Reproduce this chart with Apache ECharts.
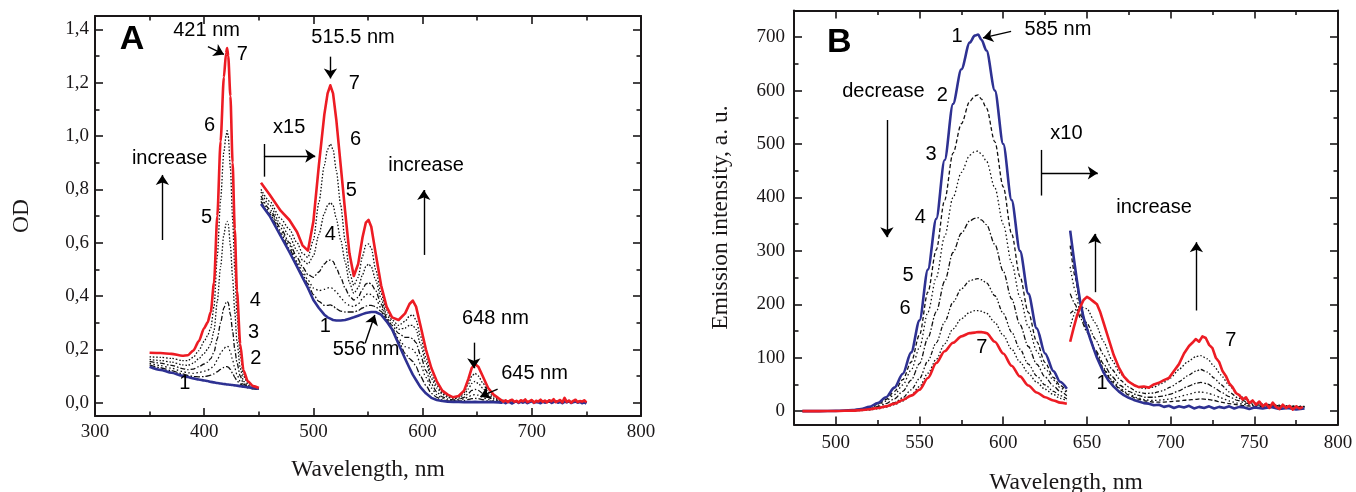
<!DOCTYPE html>
<html><head><meta charset="utf-8">
<script src="https://cdn.jsdelivr.net/npm/echarts@6.0.0/dist/echarts.min.js"></script>
<style>html,body{margin:0;padding:0;background:#fff}#c{width:1356px;height:492px}</style>
</head><body><div id="c"></div>
<script>
// ---------------- Panel A : absorption (OD) ----------------
const A_xTicks = [300, 400, 500, 600, 700, 800];
const A_xMinor = [350, 450, 550, 650, 750];
const A_yTicks = [0, 0.2, 0.4, 0.6, 0.8, 1.0, 1.2, 1.4];
const A_yMinor = [0.1, 0.3, 0.5, 0.7, 0.9, 1.1, 1.3];

// Soret region (350-450 nm)
const A1x = [350, 360, 370, 380, 385, 390, 395, 400, 403, 406, 409, 412, 415, 418, 420, 421, 422, 424, 426, 428, 430, 433, 436, 440, 445, 450];
const A1_c1 = [0.135,0.123,0.112,0.101,0.096,0.091,0.087,0.083,0.081,0.078,0.076,0.074,0.072,0.07,0.069,0.068,0.068,0.067,0.066,0.065,0.064,0.062,0.06,0.058,0.055,0.052];
const A1_c2 = [0.142,0.131,0.120,0.108,0.102,0.098,0.097,0.098,0.10,0.103,0.108,0.116,0.125,0.132,0.135,0.135,0.133,0.125,0.11,0.095,0.082,0.07,0.062,0.056,0.052,0.05];
const A1_c3 = [0.148,0.139,0.129,0.117,0.112,0.110,0.113,0.118,0.122,0.128,0.14,0.16,0.185,0.203,0.21,0.212,0.21,0.19,0.16,0.13,0.105,0.08,0.065,0.057,0.053,0.05];
const A1_c4 = [0.155,0.148,0.140,0.128,0.124,0.126,0.135,0.145,0.152,0.165,0.19,0.24,0.30,0.355,0.375,0.38,0.375,0.33,0.27,0.20,0.15,0.10,0.07,0.06,0.054,0.051];
const A1_c5 = [0.162,0.158,0.152,0.142,0.140,0.148,0.165,0.185,0.20,0.22,0.27,0.38,0.51,0.63,0.67,0.68,0.67,0.59,0.47,0.34,0.23,0.13,0.08,0.065,0.056,0.052];
const A1_c6 = [0.172,0.170,0.166,0.158,0.158,0.170,0.195,0.23,0.25,0.28,0.36,0.55,0.76,0.94,1.00,1.02,1.00,0.88,0.69,0.50,0.33,0.18,0.10,0.072,0.058,0.053];
const A1_c7 = [0.187,0.186,0.183,0.176,0.178,0.195,0.23,0.28,0.30,0.34,0.45,0.70,0.98,1.22,1.31,1.33,1.30,1.15,0.90,0.65,0.42,0.22,0.12,0.08,0.062,0.055];

// Q-band region (x15), 452-670 nm
const A2x = [452,460,470,478,485,490,495,500,505,510,513,515.5,518,521,525,529,533,537,541,545,548,550.5,553,557,562,567,572,578,584,588,591,594,598,603,608,613,618,623,628,633,638,642,645,648,651,655,660,665,670];
const A2_c1 = [0.745,0.70,0.625,0.565,0.51,0.47,0.43,0.385,0.355,0.33,0.32,0.315,0.31,0.308,0.308,0.31,0.315,0.32,0.326,0.332,0.336,0.338,0.34,0.34,0.33,0.305,0.275,0.22,0.165,0.13,0.105,0.085,0.058,0.035,0.018,0.01,0.006,0.004,0.003,0.003,0.002,0.003,0.002,0.003,0.002,0.002,0.002,0.002,0.001];
const A2_c2 = [0.755,0.708,0.635,0.578,0.52,0.482,0.445,0.405,0.38,0.365,0.365,0.367,0.363,0.352,0.343,0.34,0.34,0.34,0.345,0.355,0.362,0.365,0.365,0.36,0.342,0.31,0.278,0.23,0.185,0.165,0.155,0.135,0.1,0.065,0.035,0.02,0.011,0.007,0.005,0.006,0.008,0.012,0.015,0.016,0.015,0.011,0.007,0.004,0.003];
const A2_c3 = [0.765,0.715,0.645,0.59,0.53,0.495,0.46,0.43,0.42,0.425,0.43,0.432,0.428,0.415,0.395,0.375,0.365,0.36,0.37,0.39,0.405,0.41,0.405,0.39,0.355,0.315,0.28,0.24,0.21,0.205,0.2,0.185,0.145,0.095,0.055,0.03,0.016,0.01,0.008,0.009,0.014,0.022,0.028,0.03,0.028,0.02,0.012,0.006,0.004];
const A2_c4 = [0.775,0.725,0.655,0.6,0.545,0.51,0.48,0.47,0.49,0.52,0.532,0.535,0.53,0.505,0.47,0.43,0.40,0.385,0.395,0.425,0.445,0.45,0.445,0.42,0.37,0.32,0.29,0.26,0.245,0.245,0.24,0.225,0.18,0.12,0.07,0.04,0.022,0.014,0.01,0.012,0.02,0.035,0.046,0.05,0.046,0.035,0.02,0.01,0.005];
const A2_c5 = [0.79,0.74,0.67,0.625,0.57,0.535,0.52,0.55,0.63,0.71,0.74,0.75,0.74,0.69,0.61,0.53,0.45,0.41,0.43,0.48,0.51,0.52,0.51,0.46,0.39,0.33,0.30,0.275,0.28,0.29,0.29,0.275,0.22,0.15,0.09,0.055,0.032,0.02,0.014,0.017,0.03,0.052,0.072,0.08,0.072,0.055,0.03,0.016,0.008];
const A2_c6 = [0.80,0.755,0.69,0.65,0.60,0.56,0.545,0.61,0.75,0.89,0.95,0.97,0.95,0.87,0.74,0.61,0.49,0.44,0.47,0.55,0.59,0.595,0.58,0.50,0.41,0.345,0.31,0.29,0.305,0.325,0.33,0.31,0.25,0.17,0.105,0.065,0.038,0.025,0.018,0.022,0.038,0.07,0.10,0.11,0.10,0.075,0.04,0.022,0.012];
const A2_c7 = [0.825,0.78,0.72,0.685,0.64,0.59,0.57,0.68,0.89,1.08,1.16,1.19,1.16,1.06,0.89,0.72,0.56,0.475,0.52,0.62,0.675,0.685,0.66,0.56,0.44,0.36,0.32,0.31,0.335,0.37,0.383,0.36,0.29,0.2,0.13,0.08,0.045,0.03,0.02,0.025,0.045,0.09,0.13,0.145,0.135,0.1,0.055,0.03,0.015];

// noisy tails 672-750 nm
const A2tx = [672,674,676,678,680,682,684,686,688,690,692,694,696,698,700,702,704,706,708,710,712,714,716,718,720,722,724,726,728,730,732,734,736,738,740,742,744,746,748,750];
const A2t_c1 = [0.000,0.003,-0.002,0.004,0.001,-0.003,0.002,0.005,-0.001,0.003,0.000,0.004,-0.002,0.002,0.006,-0.001,0.003,0.001,-0.002,0.004,0.000,0.003,0.007,-0.001,0.002,0.005,0.000,0.003,-0.002,0.004,0.001,0.006,-0.001,0.002,0.004,0.000,0.003,-0.002,0.001,-0.003];
const A2t_c7 = [0.010,0.004,0.009,0.002,0.008,0.011,0.003,0.007,0.001,0.009,0.005,0.012,0.002,0.006,0.010,0.000,0.007,0.004,0.011,0.003,0.008,0.001,0.009,0.005,0.013,0.002,0.006,0.010,0.001,0.018,0.003,0.008,0.000,0.007,0.011,0.002,0.006,0.004,0.009,0.001];
const A2tcx = [675,680,690,700,710,720,730,740,750];
const A2t_c2 = [0.002,0.002,0.001,0.002,0.001,0.001,0.001,0.001,0.000];
const A2t_c3 = [0.003,0.003,0.002,0.003,0.002,0.002,0.002,0.002,0.001];
const A2t_c4 = [0.004,0.004,0.003,0.004,0.003,0.003,0.002,0.003,0.002];
const A2t_c5 = [0.006,0.005,0.005,0.006,0.004,0.005,0.004,0.005,0.003];
const A2t_c6 = [0.008,0.007,0.006,0.007,0.005,0.006,0.004,0.006,0.003];

// annotations panel A (data coordinates)
const annA_text = ['421 nm','7','6','5','4','3','2','1','increase','x15','515.5 nm','7','6','5','4','increase','1','556 nm','648 nm','645 nm'];
const annA_x = [402.2,434.8,405,402.2,446.8,445.2,447.2,382.3,368.4,477.8,536.3,537.5,538.7,534.7,515.6,603.1,510.8,548.2,666.7,702.5];
const annA_y = [1.395,1.304,1.041,0.695,0.385,0.264,0.166,0.0725,0.914,1.0325,1.37,1.1975,0.9875,0.795,0.629,0.889,0.285,0.20,0.314,0.11];
const arrA = [[403.4,1.335,418.1,1.306],[361.7,0.61,361.7,0.854],[454.7,0.925,501.7,0.925],[515.6,1.2975,515.6,1.216],[601.1,0.554,601.1,0.7975],[547.4,0.2225,556.2,0.329],[646.9,0.225,646.9,0.129],[668.7,0.051,652.8,0.0225]];
const barA = [[454.7,0.97,454.7,0.8475]];
const letterA = [333.8, 1.36];

// ---------------- Panel B : emission ----------------
const B_xTicks = [500, 550, 600, 650, 700, 750, 800];
const B_xMinor = [525, 575, 625, 675, 725, 775];
const B_yTicks = [0, 100, 200, 300, 400, 500, 600, 700];
const B_yMinor = [50, 150, 250, 350, 450, 550, 650];

const B1x = [480,490,500,510,515,520,525,530,535,540,545,550,555,560,565,570,575,580,583,585,587,590,595,600,605,610,615,620,625,630,634,638];
const B1_c1 = [0,0,0.5,2,4,8,15,26,44,70,110,170,265,360,470,575,640,690,703,705,695,675,600,500,395,300,220,155,108,75,55,42];
const B1_c2 = [0,0,0.4,1.7,3.4,7,13,22,37,59,92,143,223,302,395,483,538,580,590,592,584,567,504,420,332,252,185,130,91,63,48,37];
const B1_c3 = [0,0,0.3,1.5,3,6,11,19,31,49,77,119,185,250,327,400,447,479,486,487,481,468,418,350,278,213,158,113,80,58,44,34];
const B1_c4 = [0,0,0.3,1.2,2.3,4.5,8.5,14,23,37,58,89,137,186,243,297,333,356,361,362,358,349,312,262,210,162,121,88,64,47,37,29];
const B1_c5 = [0,0,0.2,0.8,1.6,3,6,10,16,25,40,61,94,128,167,204,229,244,247,248,246,240,216,183,148,116,88,66,49,37,29,23];
const B1_c6 = [0,0,0.2,0.6,1.2,2.3,4.5,7.5,12,19,30,46,71,97,126,154,173,185,188,188,187,183,166,142,116,92,71,54,41,31,24,19];
const B1_c7 = [0,0,0.3,1,2,3.5,6,9,14,21,29,40,62,90,112,128,140,146,147,148,148,146,130,108,85,65,48,35,26,20,16,14];

// x10 region
const B2x = [640,643,646,650,655,660,665,670,675,680,685,690,695,700,705,710,715,718,722,726,730,735,740,745,750,760,770,780];
const B2_c2 = [310,250,200,155,112,78,55,40,30,23,19,17,17,18,19,21,22,23,22,20,17,14,12,10,9,8,8,7];
const B2_c3 = [270,225,185,150,110,80,58,42,32,25,21,20,21,23,27,31,35,36,34,30,25,19,15,12,10,9,8,8];
const B2_c4 = [220,200,175,148,115,88,65,48,37,30,26,26,28,32,38,46,52,54,51,44,36,27,20,15,12,10,9,8];
const B2_c5 = [183,190,180,165,135,105,78,58,45,36,33,34,38,45,55,66,75,78,73,62,50,36,25,18,14,11,9,8];
const B2_c6 = [158,185,195,192,165,130,95,70,55,45,42,45,52,62,78,92,102,104,98,84,68,48,32,22,16,12,10,9];
const B2bx = [640,642,644,646,648,650,652,654,656,658,660,663,666,669,672,675,678,681,684,687,690,693,696,699,702,705,708,711,714,717,720,723,726,729,732,735,738,741,744,747,750,755,760,765,770,775,780];
const B2_c1 = [338,290,245,205,175,155,135,117,100,86,72,57,46,37,30,25,21,18,15,14,11,12,8,10,6,9,7,10,5,8,6,9,5,8,6,9,5,8,7,4,7,5,8,4,6,3,5];
const B2rx = [640,642,644,646,648,650,652,654,656,658,660,663,666,669,672,675,678,681,684,687,690,693,696,699,702,705,708,711,713,715,717,719,721,723,725,727,729,731,733,735,737,739,741,743,745,747,749,751,753,755,757,759,761,763,765,767,769,771,773,775,777,779];
const B2_c7 = [130,155,178,195,208,214,210,205,200,185,165,135,105,82,65,55,49,45,46,44,50,53,58,62,75,88,108,122,128,135,130,140,137,124,118,100,92,75,66,52,45,34,30,22,26,15,20,12,18,9,14,6,16,8,4,12,6,10,3,9,5,8];

const annB_text = ['1','585 nm','decrease','2','3','4','5','6','7','x10','increase','7','1'];
const annB_x = [572.4,632.7,528.4,563.6,556.9,550.4,543.2,541.4,587.2,637.8,690.1,735.9,659];
const annB_y = [701,713.7,599,591,480.4,361.8,254,191.5,119.8,519,381.8,132.3,51.2];
const arrB = [[604.7,711,587.9,698.7],[530.5,545,530.5,325.7],[622.8,446,656.5,446],[654.7,222.7,654.7,331.9],[715.4,188.4,715.4,316.3]];
const barB = [[622.8,489,622.8,403.6]];
const letterB = [502, 690.6];

// ---------------- styling ----------------
const INK = '#1a1718', RED = '#ed1c24', BLUE = '#2e3192';
const SERIF = 'Liberation Serif', SANS = 'Liberation Sans';
const dashA = {2:[6,2,1.5,2], 3:[1.5,2.5], 4:[5,2,1.5,2], 5:[1.5,1.8], 6:[1.5,1.8]};
const dashB = {2:[4,2.5], 3:[1.5,2.5], 4:[5,2,1.5,2], 5:[4,2,1.5,2,1.5,2], 6:[1.5,2]};

const pairs = (xs, ys) => xs.map((x, i) => [x, ys[i]]);

function axesFor(g, xr, yr, xMaj, xMin, yMaj, yMin, yFmt, xName, yName, xGap, yGap, xMargin, yMargin) {
  const base = {type:'value', gridIndex:g, splitLine:{show:false}, silent:true};
  const tickStyle = {color:INK, width:1.6};
  const lineStyle = {color:INK, width:2};
  const xs = [
    Object.assign({}, base, {min:xr[0], max:xr[1], position:'bottom',
      axisLine:{show:true, onZero:false, lineStyle},
      axisTick:{show:true, inside:true, length:8, customValues:xMaj, lineStyle:tickStyle},
      axisLabel:{show:true, customValues:xMaj, margin:xMargin, fontFamily:SERIF, fontSize:19, color:INK},
      name:xName, nameLocation:'middle', nameGap:xGap, nameTextStyle:{fontFamily:SERIF, fontSize:23.5, color:INK}}),
    Object.assign({}, base, {min:xr[0], max:xr[1], position:'bottom',
      axisLine:{show:false, onZero:false}, axisTick:{show:true, inside:true, length:4.5, customValues:xMin, lineStyle:tickStyle},
      axisLabel:{show:false}}),
    Object.assign({}, base, {min:xr[0], max:xr[1], position:'top',
      axisLine:{show:true, onZero:false, lineStyle}, axisTick:{show:true, inside:true, length:8, customValues:xMaj, lineStyle:tickStyle},
      axisLabel:{show:false}}),
    Object.assign({}, base, {min:xr[0], max:xr[1], position:'top',
      axisLine:{show:false, onZero:false}, axisTick:{show:true, inside:true, length:4.5, customValues:xMin, lineStyle:tickStyle},
      axisLabel:{show:false}})
  ];
  const ys = [
    Object.assign({}, base, {min:yr[0], max:yr[1], position:'left',
      axisLine:{show:true, onZero:false, lineStyle},
      axisTick:{show:true, inside:true, length:8, customValues:yMaj, lineStyle:tickStyle},
      axisLabel:{show:true, customValues:yMaj, margin:yMargin, fontFamily:SERIF, fontSize:19, color:INK, formatter:yFmt},
      name:yName, nameLocation:'middle', nameGap:yGap, nameTextStyle:{fontFamily:SERIF, fontSize:23.5, color:INK}}),
    Object.assign({}, base, {min:yr[0], max:yr[1], position:'left',
      axisLine:{show:false, onZero:false}, axisTick:{show:true, inside:true, length:4.5, customValues:yMin, lineStyle:tickStyle},
      axisLabel:{show:false}}),
    Object.assign({}, base, {min:yr[0], max:yr[1], position:'right',
      axisLine:{show:true, onZero:false, lineStyle}, axisTick:{show:true, inside:true, length:8, customValues:yMaj, lineStyle:tickStyle},
      axisLabel:{show:false}}),
    Object.assign({}, base, {min:yr[0], max:yr[1], position:'right',
      axisLine:{show:false, onZero:false}, axisTick:{show:true, inside:true, length:4.5, customValues:yMin, lineStyle:tickStyle},
      axisLabel:{show:false}})
  ];
  return {xs, ys};
}

const axA = axesFor(0, [300, 800], [-0.05, 1.45], A_xTicks, A_xMinor, A_yTicks, A_yMinor,
  v => v.toFixed(1).replace('.', ','), 'Wavelength, nm', 'OD', 42, 61, 7, 6);
const axB = axesFor(1, [475, 800], [-25, 750], B_xTicks, B_xMinor, B_yTicks, B_yMinor,
  v => String(Math.round(v)), 'Wavelength, nm', 'Emission intensity, a. u.', 46, 61, 9, 9);

function line(data, xi, yi, color, width, type, smooth, z) {
  return {type:'line', data, xAxisIndex:xi, yAxisIndex:yi, symbol:'none', showSymbol:false,
    smooth:smooth, smoothMonotone:'x', silent:true, animation:false, z:z,
    emphasis:{disabled:true},
    lineStyle:{color, width, type, cap:'butt', join:'round'}};
}

const series = [];
// Panel A
const A1c = {2:A1_c2, 3:A1_c3, 4:A1_c4, 5:A1_c5, 6:A1_c6};
const A2c = {2:A2_c2, 3:A2_c3, 4:A2_c4, 5:A2_c5, 6:A2_c6};
const A2t = {2:A2t_c2, 3:A2t_c3, 4:A2t_c4, 5:A2t_c5, 6:A2t_c6};
for (const k of [2,3,4,5,6]) {
  series.push(line(pairs(A1x, A1c[k]), 0, 0, '#111', 1.3, dashA[k], 0.25, 2));
  series.push(line(pairs(A2x.concat(A2tcx), A2c[k].concat(A2t[k])), 0, 0, '#111', 1.3, dashA[k], 0.25, 2));
}
series.push(line(pairs(A1x, A1_c1), 0, 0, BLUE, 2.6, 'solid', 0.25, 3));
series.push(line(pairs(A2x.concat(A2tx), A2_c1.concat(A2t_c1)), 0, 0, BLUE, 2.6, 'solid', false, 3));
series.push(line(pairs(A1x, A1_c7), 0, 0, RED, 2.6, 'solid', 0.25, 4));
series.push(line(pairs(A2x.concat(A2tx), A2_c7.concat(A2t_c7)), 0, 0, RED, 2.6, 'solid', false, 4));

// Panel B
const B1c = {2:B1_c2, 3:B1_c3, 4:B1_c4, 5:B1_c5, 6:B1_c6};
const B2c = {2:B2_c2, 3:B2_c3, 4:B2_c4, 5:B2_c5, 6:B2_c6};
for (const k of [2,3,4,5,6]) {
  series.push(line(pairs(B1x, B1c[k]), 4, 4, '#111', 1.3, dashB[k], 0.3, 2));
  series.push(line(pairs(B2x, B2c[k]), 4, 4, '#111', 1.3, dashB[k], 0.2, 2));
}
series.push(line(pairs(B1x, B1_c1), 4, 4, BLUE, 2.6, 'solid', 0.3, 3));
series.push(line(pairs(B2bx, B2_c1), 4, 4, BLUE, 2.6, 'solid', false, 3));
series.push(line(pairs(B1x, B1_c7), 4, 4, RED, 2.6, 'solid', 0.3, 4));
series.push(line(pairs(B2rx, B2_c7), 4, 4, RED, 2.6, 'solid', false, 4));

const labelBase = {show:true, position:[0, 0], align:'center', verticalAlign:'middle',
  fontFamily:SANS, fontSize:20, color:'#000', opacity:1, textBorderWidth:0};

function annSeries(xi, yi, texts, xs, ys, arrows, bars) {
  return {type:'scatter', xAxisIndex:xi, yAxisIndex:yi, silent:true, animation:false, z:10,
    symbolSize:0.01, itemStyle:{color:'#000', opacity:1}, emphasis:{disabled:true},
    data: pairs(xs, ys),
    label:Object.assign({}, labelBase, {formatter:p => texts[p.dataIndex]}),
    markLine:{silent:true, animation:false, symbol:['none','arrow'], symbolSize:10,
      label:{show:false}, emphasis:{disabled:true},
      itemStyle:{color:'#000'},
      lineStyle:{color:'#000', width:1.4, type:'solid', opacity:1},
      data: arrows.map(a => [{coord:[a[0], a[1]]}, {coord:[a[2], a[3]]}])
        .concat(bars.map(b => [{coord:[b[0], b[1]], symbol:'none'}, {coord:[b[2], b[3]], symbol:'none'}]))}
  };
}
series.push(annSeries(0, 0, annA_text, annA_x, annA_y, arrA, barA));
series.push(annSeries(4, 4, annB_text, annB_x, annB_y, arrB, barB));
function letter(xi, yi, txt, pos) {
  return {type:'scatter', xAxisIndex:xi, yAxisIndex:yi, silent:true, animation:false, z:10,
    symbolSize:0.01, itemStyle:{color:'#000'}, emphasis:{disabled:true},
    data:[pos], label:Object.assign({}, labelBase, {formatter:txt, fontWeight:'bold', fontSize:34})};
}
series.push(letter(0, 0, 'A', letterA));
series.push(letter(4, 4, 'B', letterB));

const chart = echarts.init(document.getElementById('c'), null, {renderer:'canvas'});
chart.setOption({
  animation:false,
  backgroundColor:'#ffffff',
  grid:[
    {left:95, top:16, width:546, height:400, containLabel:false, outerBoundsMode:'none'},
    {left:794, top:10.5, width:544, height:414, containLabel:false, outerBoundsMode:'none'}
  ],
  xAxis: axA.xs.concat(axB.xs),
  yAxis: axA.ys.concat(axB.ys),
  series
});
</script></body></html>
